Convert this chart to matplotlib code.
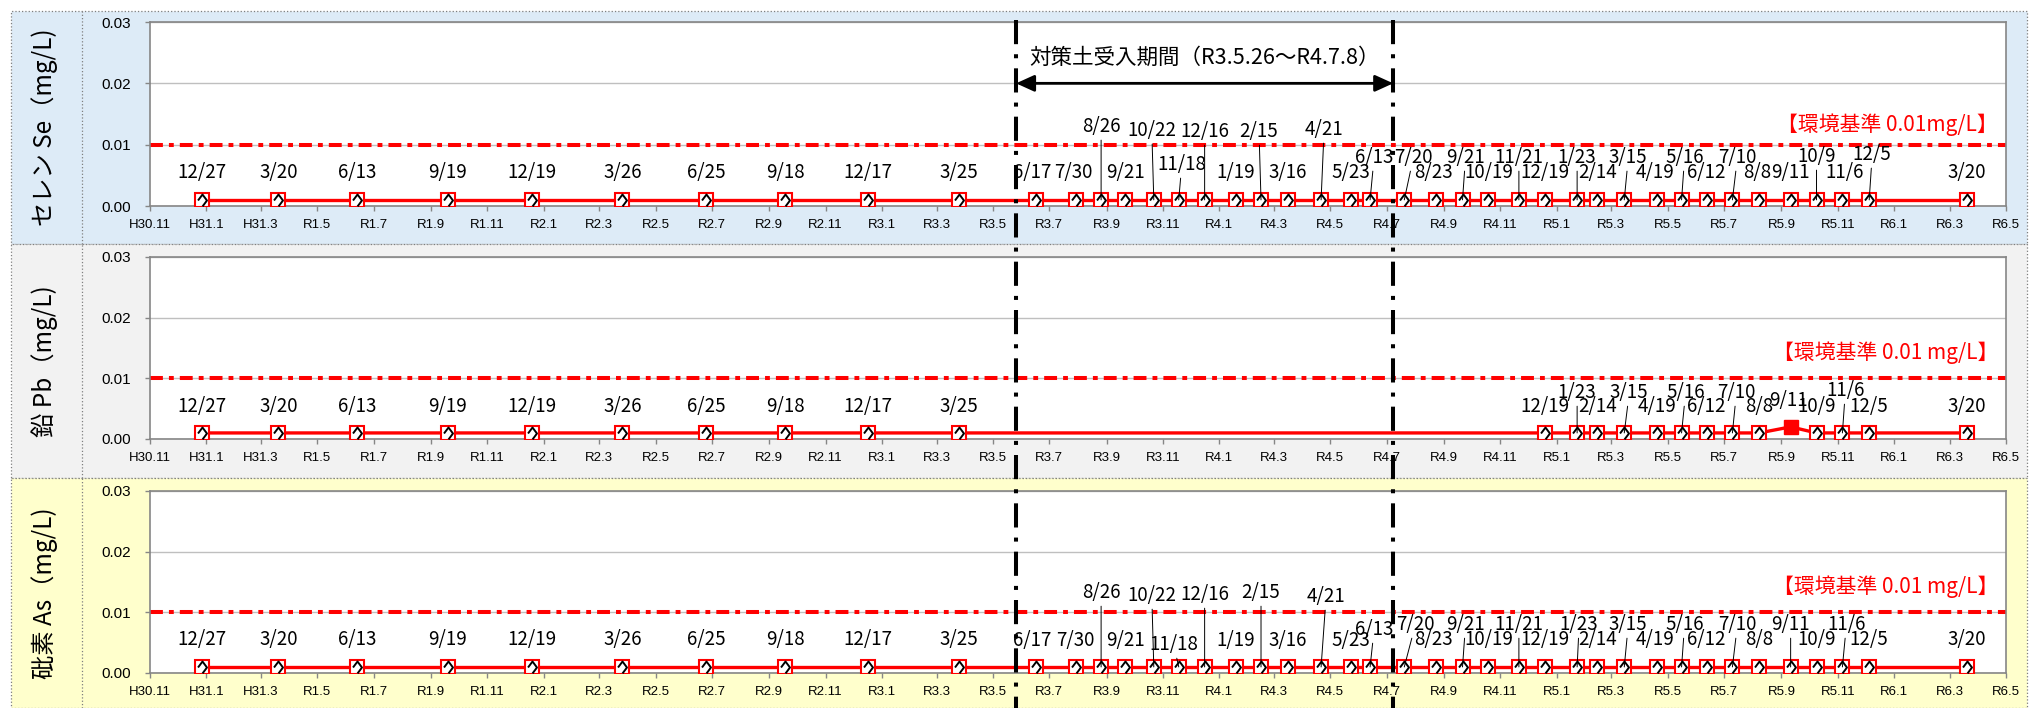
import matplotlib
matplotlib.use("Agg")
import matplotlib.pyplot as plt
import matplotlib.dates as mdates
from matplotlib.lines import Line2D
from matplotlib.patches import Rectangle
from matplotlib.transforms import blended_transform_factory
import pandas as pd

W, H = 2030, 708
CJK = ["Noto Sans CJK JP", "DejaVu Sans"]
LAT = ["Liberation Sans", "DejaVu Sans"]

# ---------------- data ----------------
pre_dates = ["2018-12-27", "2019-03-20", "2019-06-13", "2019-09-19", "2019-12-19",
             "2020-03-26", "2020-06-25", "2020-09-18", "2020-12-17", "2021-03-25"]
period_dates = ["2021-06-17", "2021-07-30", "2021-08-26", "2021-09-21", "2021-10-22",
                "2021-11-18", "2021-12-16", "2022-01-19", "2022-02-15", "2022-03-16",
                "2022-04-21", "2022-05-23", "2022-06-13"]
post_dates = ["2022-07-20", "2022-08-23", "2022-09-21", "2022-10-19", "2022-11-21",
              "2022-12-19", "2023-01-23", "2023-02-14", "2023-03-15", "2023-04-19",
              "2023-05-16", "2023-06-12", "2023-07-10", "2023-08-08", "2023-09-11",
              "2023-10-09", "2023-11-06", "2023-12-05", "2024-03-20"]
pb_post_dates = ["2022-12-19", "2023-01-23", "2023-02-14", "2023-03-15", "2023-04-19",
                 "2023-05-16", "2023-06-12", "2023-07-10", "2023-08-08", "2023-09-11",
                 "2023-10-09", "2023-11-06", "2023-12-05", "2024-03-20"]

se_dates = pre_dates + period_dates + post_dates
as_dates = pre_dates + period_dates + post_dates
pb_dates = pre_dates + pb_post_dates

se_values = [0.001, 0.001, 0.001, 0.001, 0.001, 0.001, 0.001, 0.001, 0.001, 0.001,
             0.001, 0.001, 0.001, 0.001, 0.001, 0.001, 0.001, 0.001, 0.001, 0.001,
             0.001, 0.001, 0.001,
             0.001, 0.001, 0.001, 0.001, 0.001, 0.001, 0.001, 0.001, 0.001, 0.001,
             0.001, 0.001, 0.001, 0.001, 0.001, 0.001, 0.001, 0.001, 0.001]
as_values = [0.001, 0.001, 0.001, 0.001, 0.001, 0.001, 0.001, 0.001, 0.001, 0.001,
             0.001, 0.001, 0.001, 0.001, 0.001, 0.001, 0.001, 0.001, 0.001, 0.001,
             0.001, 0.001, 0.001,
             0.001, 0.001, 0.001, 0.001, 0.001, 0.001, 0.001, 0.001, 0.001, 0.001,
             0.001, 0.001, 0.001, 0.001, 0.001, 0.001, 0.001, 0.001, 0.001]
pb_values = [0.001, 0.001, 0.001, 0.001, 0.001, 0.001, 0.001, 0.001, 0.001, 0.001,
             0.001, 0.001, 0.001, 0.001, 0.001, 0.001, 0.001, 0.001, 0.001, 0.002,
             0.001, 0.001, 0.001, 0.001]
det_limit = 0.001   # values at the limit are "< 0.001" (open marker)
std_value = 0.01

tick_labels = ["H30.11", "H31.1", "H31.3", "R1.5", "R1.7", "R1.9", "R1.11",
               "R2.1", "R2.3", "R2.5", "R2.7", "R2.9", "R2.11",
               "R3.1", "R3.3", "R3.5", "R3.7", "R3.9", "R3.11",
               "R4.1", "R4.3", "R4.5", "R4.7", "R4.9", "R4.11",
               "R5.1", "R5.3", "R5.5", "R5.7", "R5.9", "R5.11",
               "R6.1", "R6.3", "R6.5"]
period_start, period_end = "2021-05-26", "2022-07-08"

# label placement (dx, dy in pixels from the point, leader line 0/1)
pre_pos = [(0, 27, 0)] * 10
se_pos = pre_pos + [
    (-4, 27, 0), (-3, 27, 0), (0, 73, 1), (0, 27, 0), (-2, 69, 1), (3, 35, 1),
    (0, 68, 1), (0, 27, 0), (-2, 68, 1), (0, 27, 0), (3, 70, 1), (0, 27, 0), (4, 42, 1),
    (9, 42, 1), (-2, 27, 0), (3, 42, 1), (0, 27, 0), (0, 42, 1), (0, 27, 0),
    (0, 42, 1), (0, 27, 0), (4, 42, 1), (-2, 27, 0), (3, 42, 1), (0, 27, 0),
    (5, 42, 1), (-2, 27, 0), (0, 27, 0), (0, 43, 1), (2, 27, 0), (3, 45, 1), (0, 27, 0)]
as_pos = pre_pos + [
    (-4, 26, 0), (-1, 26, 0), (0, 74, 1), (0, 26, 0), (-2, 71, 1), (-5, 22, 1),
    (0, 72, 1), (0, 26, 0), (0, 74, 1), (0, 26, 0), (5, 70, 1), (0, 26, 0), (4, 37, 1),
    (11, 42, 1), (-2, 27, 0), (3, 42, 1), (0, 27, 0), (0, 42, 1), (0, 27, 0),
    (2, 42, 1), (0, 27, 0), (4, 42, 1), (-2, 27, 0), (3, 42, 1), (0, 27, 0),
    (5, 42, 1), (0, 27, 0), (0, 42, 1), (0, 27, 0), (4, 42, 1), (0, 27, 0), (0, 27, 0)]
pb_pos = [(0, 26, 0)] * 10 + [
    (0, 26, 0), (0, 40, 1), (0, 26, 0), (5, 40, 1), (0, 26, 0), (4, 40, 1),
    (0, 26, 0), (4, 40, 1), (0, 26, 0), (-2, 26, 0), (0, 26, 0), (3, 42, 1),
    (0, 26, 0), (0, 26, 0)]

panels = [
    ("セレン Se（mg/L)", se_dates, se_values, se_pos, "【環境基準 0.01mg/L】", 0.0132,
     "#DDEBF7", (22, 206), (11, 244)),
    ("鉛 Pb（mg/L)", pb_dates, pb_values, pb_pos, "【環境基準 0.01 mg/L】", 0.0142,
     "#F2F2F2", (257, 439), (244, 478)),
    ("砒素 As（mg/L)", as_dates, as_values, as_pos, "【環境基準 0.01 mg/L】", 0.0142,
     "#FFFFCC", (491, 673), (478, 708)),
]

diamond = [(-0.75, 0), (0, 1), (0.75, 0), (0, -1)]
ticks = pd.date_range("2018-11-01", "2024-05-01", freq="2MS")

fig = plt.figure(figsize=(W / 100, H / 100), dpi=100)
axes = []
for ylab, dates, values, pos, std_text, std_y, bg, (ptop, pbot), (btop, bbot) in panels:
    # cell background and dotted borders
    fig.add_artist(Rectangle((11 / W, 1 - bbot / H), (2027 - 11) / W, (bbot - btop) / H,
                             transform=fig.transFigure, facecolor=bg, edgecolor="#7F7F7F",
                             lw=0.9, ls=":", zorder=-2))
    fig.add_artist(Line2D([82 / W, 82 / W], [1 - bbot / H, 1 - btop / H],
                          transform=fig.transFigure, color="#7F7F7F", lw=0.9, ls=":", zorder=-1))
    fig.text(45 / W, 1 - (btop + bbot) / 2 / H, ylab, rotation=90, ha="center", va="center",
             fontsize=17.5, family=CJK)

    ax = fig.add_axes([150 / W, 1 - pbot / H, (2006 - 150) / W, (pbot - ptop) / H])
    axes.append(ax)
    ax.set_facecolor("white")
    d = pd.to_datetime(dates)

    ax.axhline(std_value, color="#FF0000", lw=2.9, ls=(0, (3.2, 1.5, 1.2, 1.5)), zorder=2)
    ax.plot(d, values, color="#FF0000", lw=2.4, zorder=3)
    nd = [v <= det_limit for v in values]
    dn = [x for x, f in zip(d, nd) if f]
    vn = [v for v, f in zip(values, nd) if f]
    dd = [x for x, f in zip(d, nd) if not f]
    vd = [v for v, f in zip(values, nd) if not f]
    ax.plot(dn, vn, ls="none", marker="s", ms=9.5, mfc="white", mec="#FF0000", mew=1.5, zorder=4)
    ax.plot(dn, vn, ls="none", marker=diamond, ms=8.6, mfc="white", mec="black", mew=1.4, zorder=4)
    ax.plot(dd, vd, ls="none", marker="s", ms=10, mfc="#FF0000", mec="#FF0000", zorder=4)

    for x, v, (dx, dy, lead) in zip(d, values, pos):
        kw = {}
        if lead:
            kw["arrowprops"] = dict(arrowstyle="-", color="black", lw=0.7, shrinkA=0, shrinkB=0)
        ax.annotate(f"{x.month}/{x.day}", xy=(x, v), xytext=(dx, dy), textcoords="offset pixels",
                    ha="center", va="center", fontsize=13.5, family=CJK, zorder=5, **kw)

    ax.text(0.9957, std_y, std_text, transform=blended_transform_factory(ax.transAxes, ax.transData),
            ha="right", va="center", color="#FF0000", fontsize=15, family=CJK)

    ax.set_xlim(pd.Timestamp("2018-11-01"), pd.Timestamp("2024-05-01"))
    ax.set_ylim(0, 0.03)
    ax.set_yticks([0, 0.01, 0.02, 0.03])
    ax.set_yticklabels(["0.00", "0.01", "0.02", "0.03"], family=LAT)
    ax.set_xticks(ticks)
    ax.set_xticklabels(tick_labels, family=LAT)
    ax.yaxis.grid(True, color="#BFBFBF", lw=1.0)
    ax.set_axisbelow(True)
    for s in ax.spines.values():
        s.set_color("#868686")
        s.set_linewidth(1.2)
    ax.tick_params(axis="y", direction="out", length=3.6, width=1, color="#868686",
                   pad=10, labelsize=11)
    ax.tick_params(axis="x", direction="out", length=3.6, width=1, color="#868686",
                   pad=6, labelsize=9.5)

ax1 = axes[0]
t0, t1 = pd.Timestamp(period_start), pd.Timestamp(period_end)
ax1.annotate("", xy=(t1, 0.02), xytext=(t0, 0.02),
             arrowprops=dict(arrowstyle="<|-|>,head_length=1.1,head_width=0.5", color="black",
                             lw=2, shrinkA=0, shrinkB=0), zorder=5)
ax1.text(t0 + (t1 - t0) / 2, 0.0241, "対策土受入期間（R3.5.26～R4.7.8）", ha="center", va="center",
         fontsize=15.5, family=CJK, zorder=5)

# period boundary lines through all three panels
bt = blended_transform_factory(ax1.transData, fig.transFigure)
for t in (t0, t1):
    x = mdates.date2num(t)
    fig.add_artist(Line2D([x, x], [1 - 20 / H, 0], transform=bt, color="black", lw=2.9,
                          ls=(0, (6, 2.5, 1, 2.5)), zorder=6))

fig.savefig("out.png", dpi=100)
